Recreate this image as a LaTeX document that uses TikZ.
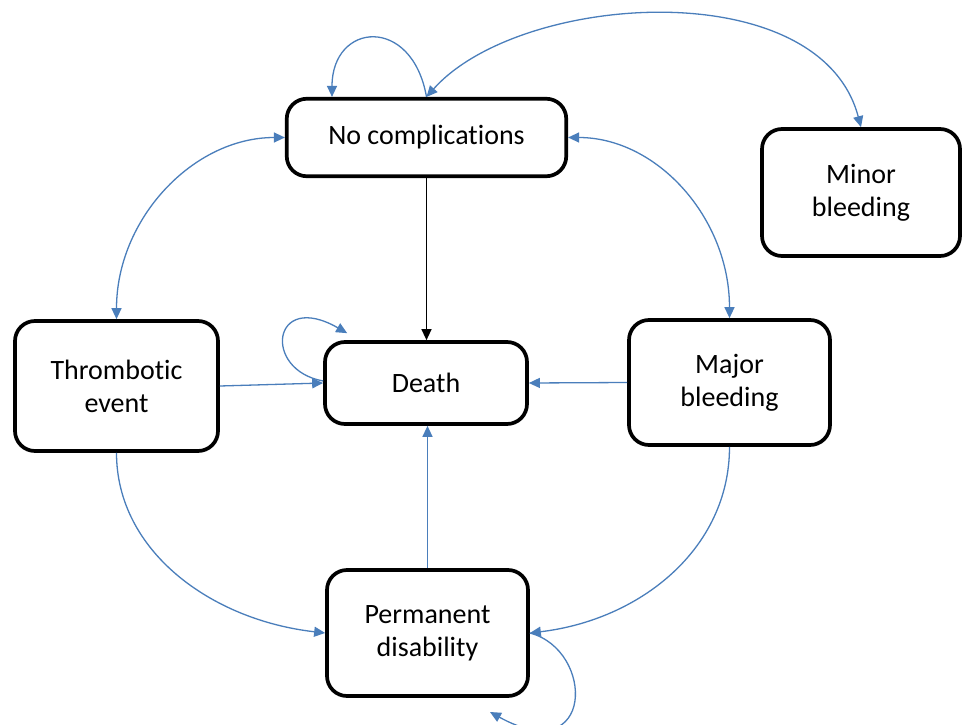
\documentclass[tikz,border=0pt]{standalone}
\usepackage{fontspec}
\setmainfont{Carlito}[Ligatures={NoCommon}]
\usetikzlibrary{arrows.meta,calc}
\definecolor{edgeblue}{RGB}{74,126,187}
\begin{document}
\begin{tikzpicture}[x=1pt,y=-1pt,
  box/.style={draw, line width=3.7pt, rounded corners=20pt, align=center,
    font=\fontsize{28}{33}\selectfont, inner sep=0pt, fill=white},
  link/.style={edgeblue, line width=1.3pt, -{Triangle[length=11pt,width=10pt]}},
  dlink/.style={edgeblue, line width=1.3pt, {Triangle[length=11pt,width=10pt]}-{Triangle[length=11pt,width=10pt]}},
  blink/.style={black, line width=1.3pt, -{Triangle[length=11pt,width=10pt]}}]
\clip (0,0) rectangle (966,725);
\fill[white] (0,0) rectangle (966,725);
\node[box, minimum width=279.5pt, minimum height=77.5pt] (nc) at (426.5,137.5) {No complications};
\node[box, minimum width=198pt, minimum height=127pt] (minor) at (861,192.5) {Minor\\bleeding};
\node[box, minimum width=203pt, minimum height=130pt] (thr) at (116.5,386) {Thrombotic\\event};
\node[box, minimum width=202pt, minimum height=82pt] (death) at (426,383) {Death};
\node[box, minimum width=201pt, minimum height=125pt] (major) at (729.5,382.5) {Major\\bleeding};
\node[box, minimum width=201pt, minimum height=126pt] (perm) at (427.5,633) {Permanent\\disability};
\coordinate (ncl) at ($(nc.north)+(-94.5,0)$);
\coordinate (dl) at ($(death.north west)+(24,-7)$);
\coordinate (pl) at (490,712);
% connectors
\draw[dlink] (thr.north) .. controls (116.5,219) and (193,137.5) .. (nc.west);
\draw[dlink] (nc.east) .. controls (657,137.5) and (729.5,218) .. (major.north);
\draw[dlink] (nc.north) .. controls (520,-8) and (820,-28) .. (minor.north);
\draw[link] (nc.north) .. controls (412,15) and (332,22) .. (ncl);
\draw[blink] (nc.south) -- (nc.south |- death.north);
\draw[link] ($(death.west)+(0,-2)$) .. controls (262,370) and (272,290) .. (dl);
\draw[link] (thr.east) -- (death.west);
\draw[link] (major.west) -- (death.east);
\draw[link] (perm.north) -- (perm.north |- death.south);
\draw[link] (thr.south) .. controls (116.5,551) and (211,620) .. (perm.west);
\draw[link] (major.south) .. controls (729.5,549) and (640,620) .. (perm.east);
\draw[link] (perm.east) .. controls (595,650) and (595,770) .. (pl);
\end{tikzpicture}
\end{document}
